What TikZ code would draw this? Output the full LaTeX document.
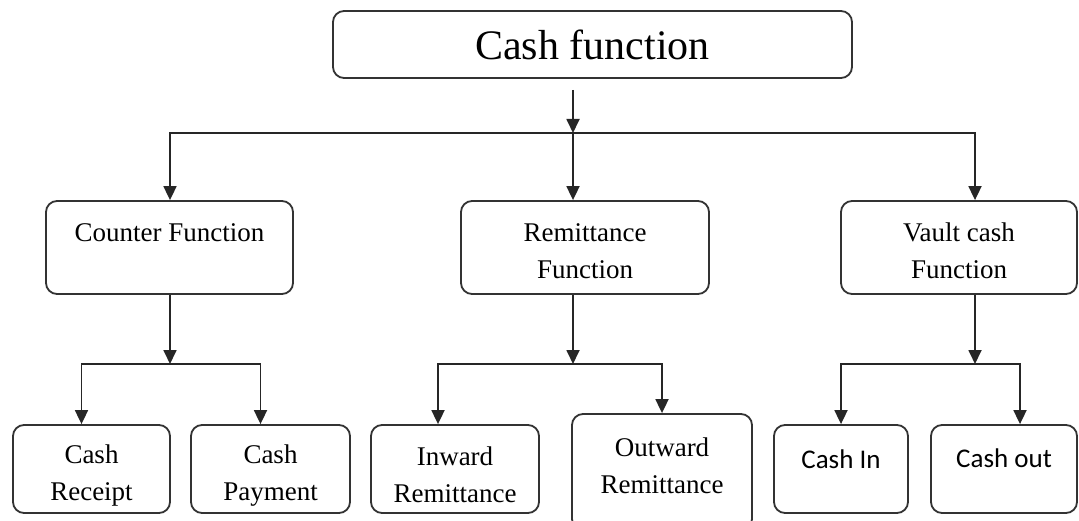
\documentclass[tikz,border=0pt]{standalone}
\usepackage{fontspec}
\setmainfont{Liberation Serif}
\newfontfamily\calibrifont{Carlito}
\usetikzlibrary{arrows.meta}

\begin{document}
\begin{tikzpicture}[x=1pt,y=-1pt,>={Triangle[length=14pt,width=13pt]},line width=1.8pt,
    fn box/.style={draw=black!80,rounded corners=11pt,align=center,inner sep=0pt,font=\fontsize{27}{37}\selectfont},
    fn text/.style={align=center,font=\fontsize{27}{37}\selectfont},
    sans text/.style={font=\calibrifont\fontsize{27}{37}\selectfont},
    link/.style={->,draw=black!85}]

                \useasboundingbox (0,0) rectangle (1079,521);

                % top level
                \node[fn box, minimum width=519pt, minimum height=67pt, font=\fontsize{42}{50}\selectfont] (cash) at (592.5,44.5) {Cash function};

                % second level
                \node[fn box, minimum width=247pt, minimum height=93pt,
                      label={[fn text, yshift=14.5pt]center:Counter Function}] (counter) at (169.5,247.5) {};
                \node[fn box, minimum width=248pt, minimum height=93pt,
                      label={[fn text, yshift=-4pt]center:Remittance\\Function}] (remit) at (585,247.5) {};
                \node[fn box, minimum width=236pt, minimum height=93pt,
                      label={[fn text, yshift=-3pt]center:Vault cash\\Function}] (vault) at (959,247.5) {};

                % third level
                \node[fn box, minimum width=157pt, minimum height=88pt,
                      label={[fn text, yshift=-7pt]center:Cash\\Receipt}] (receipt) at (91.5,469) {};
                \node[fn box, minimum width=159pt, minimum height=88pt,
                      label={[fn text, yshift=-7pt]center:Cash\\Payment}] (payment) at (270.5,469) {};
                \node[fn box, minimum width=168pt, minimum height=88pt,
                      label={[fn text, yshift=-6pt]center:Inward\\Remittance}] (inward) at (455,469) {};
                \node[fn box, minimum width=180pt, minimum height=116pt,
                      label={[fn text, yshift=6pt]center:Outward\\Remittance}] (outward) at (662,472) {};
                \node[fn box, minimum width=134pt, minimum height=88pt,
                      label={[sans text, yshift=10pt]center:Cash In}] (cashin) at (841,469) {};
                \node[fn box, minimum width=146pt, minimum height=88pt,
                      label={[sans text, yshift=11pt]center:Cash out}] (cashout) at (1004,469) {};

                \coordinate (top split) at (573,133);
                \coordinate (ctr split) at (170,364);
                \coordinate (rem split) at (573,364);
                \coordinate (vlt split) at (975,364);

                \draw[link, shorten <=11pt] (cash.south -| top split) to (top split);
                \draw[link] (top split) -| (counter.north -| ctr split);
                \draw[link] (top split) to (remit.north -| top split);
                \draw[link] (top split) -| ([xshift=16pt]vault.north);

                \draw[link] (counter.south -| ctr split) to (ctr split);
                \draw[link] (ctr split) -| ([xshift=-10pt]receipt.north);
                \draw[link] (ctr split) -| ([xshift=-10pt]payment.north);

                \draw[link] (remit.south -| rem split) to (rem split);
                \draw[link] (rem split) -| ([xshift=-17pt]inward.north);
                \draw[link] (rem split) -| (outward.north);

                \draw[link] ([xshift=16pt]vault.south) to (vlt split);
                \draw[link] (vlt split) -| (cashin.north);
                \draw[link] (vlt split) -| ([xshift=16pt]cashout.north);

                ;
            \end{tikzpicture}
\end{document}
